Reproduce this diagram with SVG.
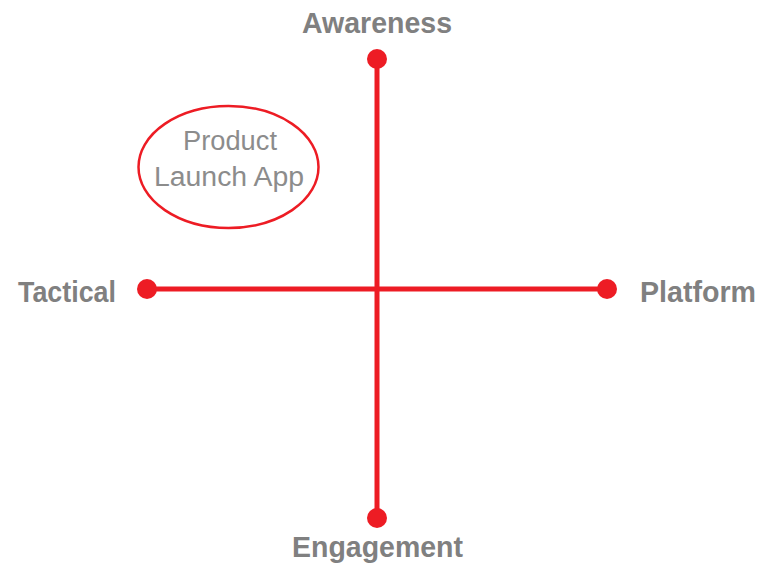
<svg xmlns="http://www.w3.org/2000/svg" width="758" height="568" viewBox="0 0 758 568">
<style>
.ax{stroke:#ED1C24;stroke-width:5;fill:none}
.dot{fill:#ED1C24}
.lbl{font-family:"Liberation Sans",Arial,sans-serif;font-weight:bold;font-size:29px;fill:#808080}
.ell{fill:none;stroke:#ED1C24;stroke-width:2.5}
.etx{font-family:"Liberation Sans",Arial,sans-serif;font-size:27px;fill:#8c8c8c;text-anchor:middle}
</style>
<rect width="758" height="568" fill="#fff"/>
<g id="connectors">
<line class="ax" x1="377" y1="59" x2="377" y2="518"/>
<line class="ax" x1="147" y1="289" x2="607" y2="289"/>
</g>
<g id="awareness">
<circle class="dot" cx="377" cy="59" r="10"/>
<text class="lbl" x="302" y="33" textLength="150" lengthAdjust="spacingAndGlyphs">Awareness</text>
</g>
<g id="tactical">
<circle class="dot" cx="147" cy="289" r="10"/>
<text class="lbl" x="18" y="302" textLength="98" lengthAdjust="spacingAndGlyphs">Tactical</text>
</g>
<g id="platform">
<circle class="dot" cx="607" cy="289" r="10"/>
<text class="lbl" x="640" y="302" textLength="116" lengthAdjust="spacingAndGlyphs">Platform</text>
</g>
<g id="engagement">
<circle class="dot" cx="377" cy="518" r="10"/>
<text class="lbl" x="292" y="557" textLength="171" lengthAdjust="spacingAndGlyphs">Engagement</text>
</g>
<g id="product-launch-app">
<ellipse class="ell" cx="228.5" cy="167" rx="90" ry="61"/>
<text class="etx" x="230" y="150" textLength="94" lengthAdjust="spacingAndGlyphs">Product</text>
<text class="etx" x="229" y="186" textLength="150" lengthAdjust="spacingAndGlyphs">Launch App</text>
</g>
</svg>
